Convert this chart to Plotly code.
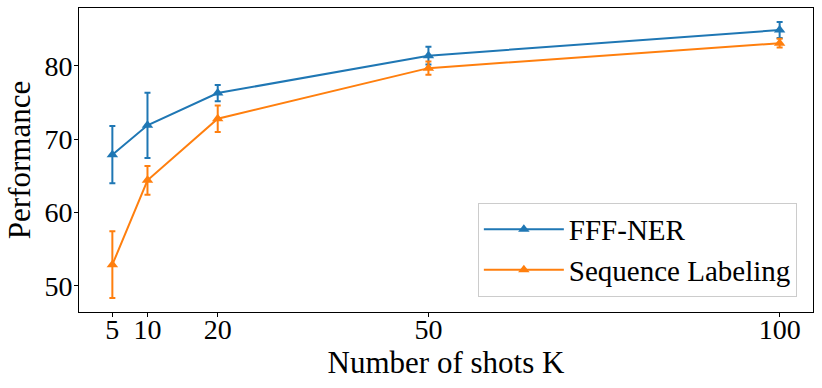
# Few-shot performance: FFF-NER vs Sequence Labeling, with error bars
import plotly.graph_objects as go

# data
SHOTS = [5, 10, 20, 50, 100]
FFF_NER = [67.9, 71.9, 76.3, 81.4, 84.9]
FFF_NER_ERR = [3.9, 4.45, 1.1, 1.2, 1.1]
SEQ_LAB = [52.9, 64.4, 72.8, 79.7, 83.1]
SEQ_LAB_ERR = [4.55, 1.95, 1.8, 0.9, 0.6]

SERIES = [
    ("FFF-NER", FFF_NER, FFF_NER_ERR, "#1f77b4"),
    ("Sequence Labeling", SEQ_LAB, SEQ_LAB_ERR, "#ff7f0e"),
]

FONT = "Liberation Serif"

fig = go.Figure()
for name, vals, err, color in SERIES:
    fig.add_trace(go.Scatter(
        x=SHOTS,
        y=vals,
        name=name,
        mode="lines+markers",
        line=dict(color=color, width=2),
        marker=dict(symbol="triangle-up", size=10, color=color),
        error_y=dict(type="data", array=err, visible=True,
                     color=color, thickness=2, width=3),
    ))

fig.update_layout(
    width=822,
    height=388,
    margin=dict(l=79, r=9, t=8, b=76),   # matches the matplotlib axes box
    paper_bgcolor="white",
    plot_bgcolor="white",
    font=dict(family=FONT, size=28, color="black"),
    showlegend=True,
    legend=dict(
        x=0.978, y=0.05, xanchor="right", yanchor="bottom",
        bgcolor="rgba(255,255,255,0.8)",
        bordercolor="#cccccc", borderwidth=1,
        font=dict(family=FONT, size=29),
        itemwidth=80,
        tracegroupgap=0,
    ),
)

fig.update_xaxes(
    range=[0.25, 104.75],
    tickvals=SHOTS,
    ticktext=[str(s) for s in SHOTS],
    tickfont=dict(family=FONT, size=28),
    ticks="outside", ticklen=4, tickwidth=1, tickcolor="black",
    ticklabelstandoff=-12,
    showline=True, linecolor="black", linewidth=1, mirror=True,
    showgrid=False, zeroline=False, automargin=False,
    title=dict(text="Number of shots K", standoff=0,
               font=dict(family=FONT, size=31)),
)
fig.update_yaxes(
    range=[46.45, 87.9],
    tickvals=[50, 60, 70, 80],
    tickfont=dict(family=FONT, size=28),
    ticks="outside", ticklen=4, tickwidth=1, tickcolor="black",
    ticklabelstandoff=-4,
    showline=True, linecolor="black", linewidth=1, mirror=True,
    showgrid=False, zeroline=False, automargin=False,
    title=dict(text="Performance", standoff=4,
               font=dict(family=FONT, size=31)),
)

# drop the browser's default body margin so the figure sits at the page corner
fig.write_html(
    "out.html",
    config={"displayModeBar": False},
    post_script="document.body.style.margin='0';",
)
